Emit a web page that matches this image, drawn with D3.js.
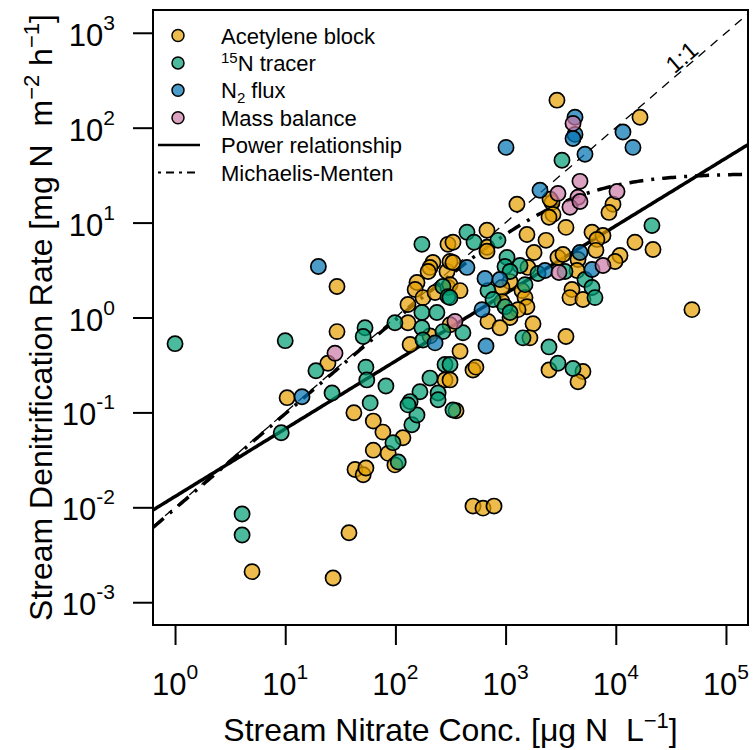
<!DOCTYPE html>
<html><head><meta charset="utf-8">
<script src="https://cdn.jsdelivr.net/npm/d3@7"></script>
<style>
body{margin:0;background:#fff}
svg{display:block}
text{font-family:"Liberation Sans",Arial,Helvetica,sans-serif;fill:#000}
</style>
</head><body>
<svg id="chart" width="753" height="750"></svg>
<script>
// ---- data (x: stream nitrate µg N/L, y: denitrification mg N m-2 h-1) ----
const acetylene = [[29.5,2.12],[29.5,0.71],[24.4,0.33],[10.4,0.143],[300,5.9],[219,3.8],[206,3.37],[198,3.05],[294,3.05],[157,2.34],[151,1.97],[178,1.62],[229,1.83],[300,2.07],[130,1.37],[130,0.88],[206,0.64],[136,0.52],[282,0.22],[313,3.89],[5,0.0021],[27.2,0.0018],[37.9,0.0054],[43,0.025],[51,0.022],[54,0.026],[42,0.099],[63,0.081],[77,0.062],[63,0.040],[86,0.037],[99,0.028],[117,0.054],[1268,15.6],[2637,16.3],[2692,12.2],[9435,15.6],[8673,12.8],[14940,6.2],[21770,5.2],[678,8.3],[678,5.5],[678,5.0],[1563,7.5],[2328,6.5],[3532,8.9],[2477,11.4],[6085,7.9],[7656,7.3],[6745,6.65],[6606,5.1],[10920,4.5],[9840,3.89],[4540,4.08],[4446,3.13],[2987,4.29],[3318,4.61],[4005,1.97],[3839,1.62],[5035,1.55],[1811,4.84],[1596,3.37],[1097,2.39],[1409,1.92],[927,2.07],[927,1.47],[1500,1.62],[1563,1.30],[1297,1.21],[1097,1.0],[692,0.91],[889,0.78],[313,0.84],[1774,0.86],[1663,0.61],[3532,0.63],[386,0.44],[2477,0.28],[506,0.28],[538,0.30],[5035,0.27],[4540,0.21],[49110,1.21],[313,0.22],[313,2.22],[386,1.92],[333,3.8],[333,6.2],[2925,195],[16590,129],[2530,17.6],[355,0.104],[506,0.0103],[624,0.0098],[785,0.0103]];
const tracer15N = [[1,0.53],[10,0.57],[19,0.275],[53,0.78],[51,0.63],[54,0.30],[55,0.22],[82,0.19],[26.6,0.16],[9.2,0.061],[174,5.9],[270,2.12],[300,1.66],[174,1.13],[238,1.13],[99,0.88],[174,0.78],[178,0.58],[270,0.71],[282,0.32],[206,0.23],[167,0.165],[244,0.16],[136,0.13],[4.06,0.0085],[4.06,0.0051],[106,0.030],[95,0.048],[141,0.074],[157,0.094],[130,0.12],[59,0.126],[244,0.136],[333,0.106],[21290,9.3],[446,7.9],[517,6.2],[853,6.5],[1968,2.91],[3460,3.05],[5255,2.51],[6085,2.07],[6475,1.62],[1352,3.53],[1030,4.29],[988,3.45],[1097,3.05],[1500,2.22],[692,1.92],[769,1.55],[988,1.30],[1097,1.13],[410,0.69],[1439,0.61],[2477,0.49],[2987,0.33],[4093,0.29],[313,0.32],[313,1.62],[3249,45.4]];
const n2Flux = [[20,3.45],[14.2,0.146],[229,0.54],[4266,129],[4266,85],[4093,77],[1009,62],[11620,90],[14320,62],[5255,52.5],[2052,21.9],[4732,4.84],[6085,3.2],[2279,3.13],[650,2.58],[889,2.51],[611,1.21],[664,0.50],[446,3.37]];
const massBalance = [[28.3,0.42],[4093,111],[4732,27.2],[2987,20.3],[10260,21.3],[4540,18.5],[3839,14.5],[4732,16.7],[7656,3.53],[3052,2.98],[347,0.91]];

const seriesNames = ["Acetylene block","15N tracer","N2 flux","Mass balance"];
const seriesColors = ["#E69F00","#009E73","#0072B2","#CC79A7"];
const xTicks = [1,10,100,1000,10000,100000];
const xTickExp = ["0","1","2","3","4","5"];
const yTicks = [0.001,0.01,0.1,1,10,100,1000];
const yTickExp = ["-3","-2","-1","0","1","2","3"];
// fitted model parameters
const powerCoef = 0.013, powerExp = 0.713;
const mmVmax = 33, mmK = 3400;
const oneToOneRatio = 0.01;

// ---- drawing ----
const svg = d3.select("#chart");
const L = 153, R = 748, T = 10, B = 625;
const x = d3.scaleLog().domain([Math.pow(10,-0.2), Math.pow(10,5.2)]).range([L, R]);
const y = d3.scaleLog().domain([Math.pow(10,-3.24), Math.pow(10,3.24)]).range([B, T]);

svg.append("defs").append("clipPath").attr("id","plotclip")
  .append("rect").attr("x",L).attr("y",T).attr("width",R-L).attr("height",B-T);

// axes
const xAxis = svg.append("g").attr("transform",`translate(0,${B})`)
  .call(d3.axisBottom(x).tickValues(xTicks).tickFormat("").tickSizeOuter(0).tickSizeInner(20));
const yAxis = svg.append("g").attr("transform",`translate(${L},0)`)
  .call(d3.axisLeft(y).tickValues(yTicks).tickFormat("").tickSizeOuter(0).tickSizeInner(20));
[xAxis,yAxis].forEach(g=>{
  g.select(".domain").remove();
  g.selectAll(".tick line").attr("stroke","#000").attr("stroke-width",2);
});

// x tick labels
xTicks.forEach((v,i)=>{
  const t = svg.append("text").attr("x",x(v)).attr("y",695).attr("text-anchor","middle");
  t.append("tspan").attr("font-size",31).text("10");
  t.append("tspan").attr("font-size",21).attr("dy",-16).text(xTickExp[i]);
});
// y tick labels
yTicks.forEach((v,i)=>{
  const t = svg.append("text").attr("x",115).attr("y",y(v)+13).attr("text-anchor","end");
  t.append("tspan").attr("font-size",31).text("10");
  t.append("tspan").attr("font-size",21).attr("dy",-16).text(yTickExp[i]);
});

// axis titles
const xt = svg.append("text").attr("x",(L+R)/2).attr("y",741).attr("text-anchor","middle").attr("font-size",32);
xt.append("tspan").text("Stream Nitrate Conc. [\u03BCg N\u00A0\u00A0L");
xt.append("tspan").attr("font-size",22).attr("dy",-13).text("\u22121");
xt.append("tspan").attr("dy",13).text("]");

const yt = svg.append("text").attr("transform",`translate(52,${(T+B)/2}) rotate(-90)`).attr("text-anchor","middle").attr("font-size",32);
yt.append("tspan").text("Stream Denitrification Rate [mg N\u00A0\u00A0m");
yt.append("tspan").attr("font-size",22).attr("dy",-13).text("\u22122");
yt.append("tspan").attr("dy",13).text("\u00A0h");
yt.append("tspan").attr("font-size",22).attr("dy",-13).text("\u22121");
yt.append("tspan").attr("dy",13).text("]");

// lines
const lx = d3.range(-0.2, 5.2001, 0.02).map(e=>Math.pow(10,e));
const lines = svg.append("g").attr("clip-path","url(#plotclip)");
lines.append("path").datum([lx[0], lx[lx.length-1]])
  .attr("d", d3.line().x(d=>x(d)).y(d=>y(d*oneToOneRatio)))
  .attr("fill","none").attr("stroke","#000").attr("stroke-width",1.3).attr("stroke-dasharray","9,7");
lines.append("path").datum(lx)
  .attr("d", d3.line().x(d=>x(d)).y(d=>y(powerCoef*Math.pow(d,powerExp))))
  .attr("fill","none").attr("stroke","#000").attr("stroke-width",3.5);
lines.append("path").datum(lx)
  .attr("d", d3.line().x(d=>x(d)).y(d=>y(mmVmax*d/(mmK+d))))
  .attr("fill","none").attr("stroke","#000").attr("stroke-width",3.5).attr("stroke-dasharray","14,8,3,8");

// 1:1 label
const ang = Math.atan2(y(100)-y(10), x(10000)-x(1000))*180/Math.PI;
const lab = Math.pow(10,4.66);
svg.append("text").attr("transform",`translate(${x(lab)},${y(lab*oneToOneRatio)}) rotate(${ang})`)
  .attr("text-anchor","middle").attr("dy",-2).attr("font-size",24).text("1:1");

// points
const allSeries = [acetylene, tracer15N, n2Flux, massBalance];
const pts = svg.append("g");
allSeries.forEach((s,i)=>{
  pts.selectAll(null).data(s).enter().append("circle")
    .attr("cx",d=>x(d[0])).attr("cy",d=>y(d[1])).attr("r",7.6)
    .attr("fill",seriesColors[i]).attr("fill-opacity",0.7)
    .attr("stroke","#000").attr("stroke-width",1.7);
});

// box
svg.append("rect").attr("x",L).attr("y",T).attr("width",R-L).attr("height",B-T)
  .attr("fill","none").attr("stroke","#000").attr("stroke-width",2);

// legend
const lg = svg.append("g");
const rowY = i => 35.5 + i*27.4;
seriesNames.forEach((n,i)=>{
  lg.append("circle").attr("cx",178).attr("cy",rowY(i)).attr("r",6)
    .attr("fill",seriesColors[i]).attr("fill-opacity",0.7).attr("stroke","#000").attr("stroke-width",1.5);
  const t = lg.append("text").attr("x",221).attr("y",rowY(i)+8).attr("font-size",22);
  if(i===1){
    t.append("tspan").attr("font-size",15).attr("dy",-8).text("15");
    t.append("tspan").attr("dy",8).text("N tracer");
  } else if(i===2){
    t.append("tspan").text("N");
    t.append("tspan").attr("font-size",15).attr("dy",5).text("2");
    t.append("tspan").attr("dy",-5).text(" flux");
  } else t.text(n);
});
lg.append("line").attr("x1",158).attr("x2",200).attr("y1",rowY(4)).attr("y2",rowY(4))
  .attr("stroke","#000").attr("stroke-width",2.5);
lg.append("text").attr("x",221).attr("y",rowY(4)+8).attr("font-size",22).text("Power relationship");
lg.append("line").attr("x1",158).attr("x2",200).attr("y1",rowY(5)).attr("y2",rowY(5))
  .attr("stroke","#000").attr("stroke-width",2).attr("stroke-dasharray","3,5,8,5");
lg.append("text").attr("x",221).attr("y",rowY(5)+8).attr("font-size",22).text("Michaelis-Menten");
</script>
</body></html>
